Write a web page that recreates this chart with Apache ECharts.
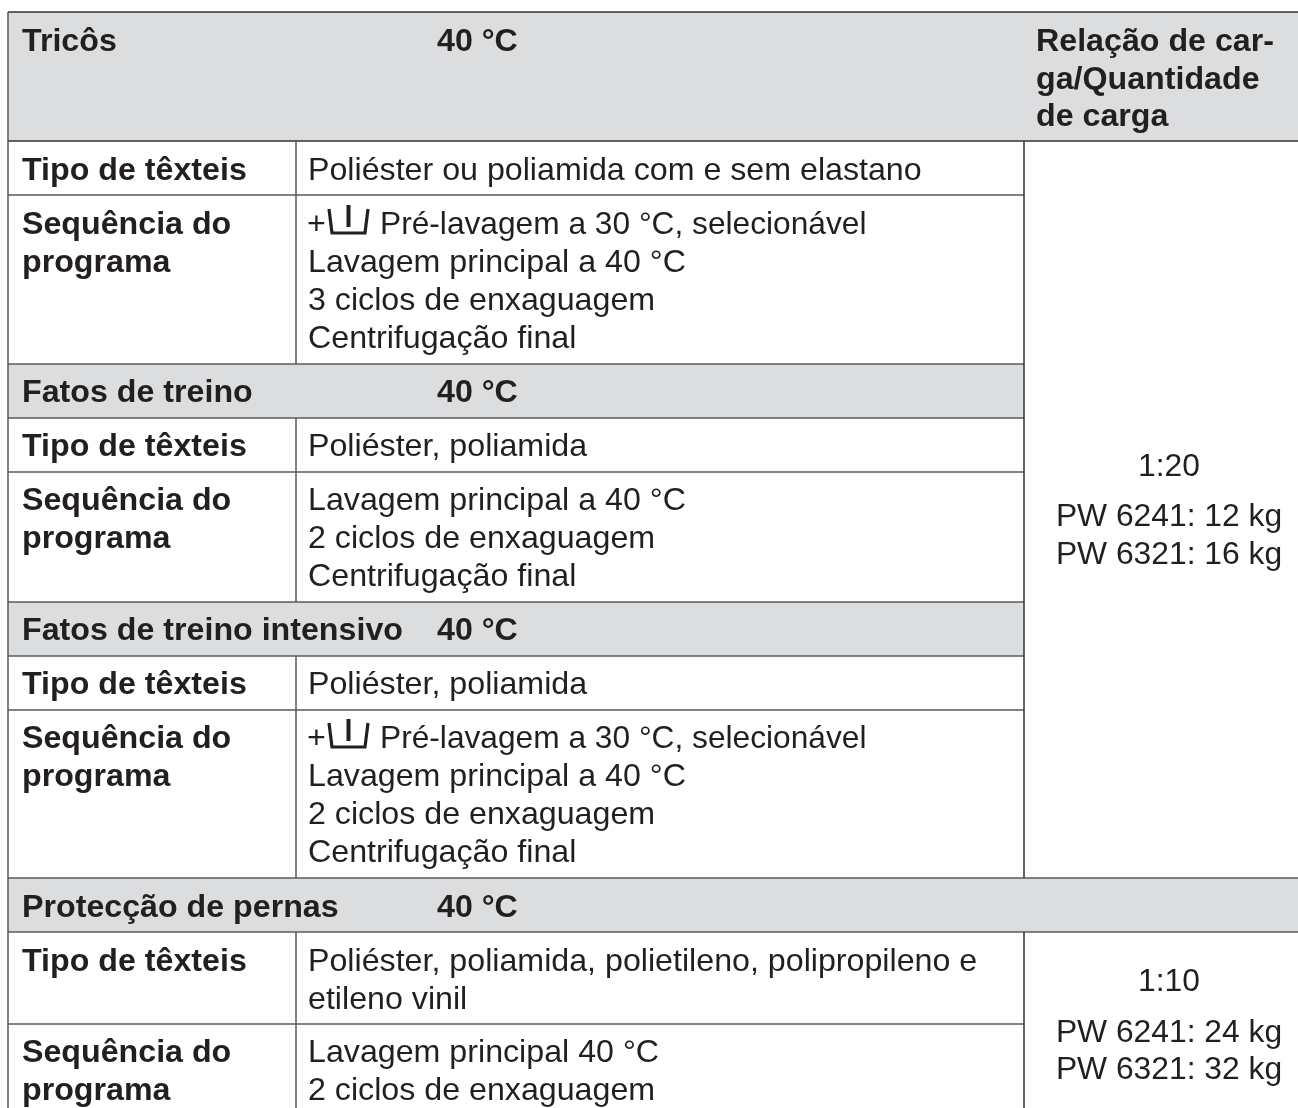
<!DOCTYPE html>
<html><head><meta charset="utf-8">
<style>html,body{margin:0;padding:0;background:#fff}#c{width:1298px;height:1108px}</style>
<script src="https://cdn.jsdelivr.net/npm/echarts@6/dist/echarts.min.js"></script></head>
<body><div id="c"></div>
<script>
// ---- content ----
const headerTitles = ['Tricôs', 'Fatos de treino', 'Fatos de treino intensivo', 'Protecção de pernas'];
const temperature = '40 °C';
const rowLabels = ['Tipo de têxteis', 'Sequência do', 'programa'];
const loadHeader = ['Relação de car-', 'ga/Quantidade', 'de carga'];
const bodyLines = [
  'Poliéster ou poliamida com e sem elastano',
  'Pré-lavagem a 30 °C, selecionável', 'Lavagem principal a 40 °C', '3 ciclos de enxaguagem', 'Centrifugação final',
  'Poliéster, poliamida',
  'Lavagem principal a 40 °C', '2 ciclos de enxaguagem', 'Centrifugação final',
  'Poliéster, poliamida',
  'Pré-lavagem a 30 °C, selecionável', 'Lavagem principal a 40 °C', '2 ciclos de enxaguagem', 'Centrifugação final',
  'Poliéster, poliamida, polietileno, polipropileno e', 'etileno vinil',
  'Lavagem principal 40 °C', '2 ciclos de enxaguagem'
];
const loadLines = ['1:20', 'PW 6241: 12 kg', 'PW 6321: 16 kg', '1:10', 'PW 6241: 24 kg', 'PW 6321: 32 kg'];

// ---- layout of the table (page pixels) ----
const L = 8, C1 = 296, C2 = 1024, R = 1298, B = 1108;
const bodyRowY = [171, 225, 263, 301, 339, 447, 501, 539, 577, 685, 739, 777, 815, 853, 962, 1000, 1053, 1091];
const preWashRows = [1, 10];
const sectionY = [42, 393, 631, 908];
const labelRows = [[0,171],[1,225],[2,263],[0,447],[1,501],[2,539],[0,685],[1,739],[2,777],[0,962],[1,1053],[2,1091]];
const loadPos = [467, 517, 555, 982, 1033, 1070];
const bands = [[L,12,R,141],[L,364,C2,418],[L,602,C2,656],[L,878,R,932]];
const hLines = [[L,R,12],[L,R,141],[L,C2,195],[L,C2,364],[L,C2,418],[L,C2,472],[L,C2,602],[L,C2,656],[L,C2,710],[L,R,878],[L,R,932],[L,C2,1024]];
const vLines = [[L,12,B],[C2,141,878],[C2,932,B],[C1,141,364],[C1,418,602],[C1,656,878],[C1,932,B]];

const FS = 32.2, FF = '"Liberation Sans", Arial, sans-serif', INK = '#231f20', LINE = '#58585a', DARK = '#323234', FILL = '#dcddde';

const texts = [];
const add = (t, x, y, o) => texts.push(Object.assign({t, x, y, w: 400, a: 'left', s: FS}, o));
headerTitles.forEach((t, i) => { add(t, 22, sectionY[i], {w: 700}); add(temperature, 437, sectionY[i], {w: 700}); });
loadHeader.forEach((t, i) => add(t, 1036, [42, 80, 117][i], {w: 700}));
labelRows.forEach(([i, y]) => add(rowLabels[i], 22, y, {w: 700}));
bodyLines.forEach((t, i) => preWashRows.includes(i) ? add(t, 380, bodyRowY[i], {s: 31.7}) : add(t, 308, bodyRowY[i]));
preWashRows.forEach(i => add('+', 307, bodyRowY[i]));
loadLines.forEach((t, i) => add(t, 1169, loadPos[i], {a: 'center', s: 31.8}));

const chart = echarts.init(document.getElementById('c'), null, {renderer: 'canvas'});
chart.setOption({
  animation: false,
  grid: {left: 0, right: 0, top: 0, bottom: 0},
  xAxis: {type: 'value', min: 0, max: 1298, show: false},
  yAxis: {type: 'value', min: 0, max: 1108, inverse: true, show: false},
  series: [
    {type: 'custom', silent: true, z: 1, data: bands.map((_, i) => i), renderItem: (p, api) => {
      const b = bands[api.value(0)], a = api.coord([b[0], b[1]]), c = api.coord([b[2], b[3]]);
      return {type: 'rect', shape: {x: a[0], y: a[1], width: c[0]-a[0], height: c[1]-a[1]}, style: {fill: FILL}};
    }},
    {type: 'custom', silent: true, z: 2, data: hLines.map((_, i) => i), renderItem: (p, api) => {
      const h = hLines[api.value(0)], a = api.coord([h[0], h[2]]), c = api.coord([h[1], h[2]]);
      return {type: 'line', shape: {x1: a[0], y1: a[1], x2: c[0], y2: c[1]}, style: {stroke: h[2] === 12 || h[2] === 141 ? DARK : LINE, lineWidth: 1.5}};
    }},
    {type: 'custom', silent: true, z: 3, data: vLines.map((_, i) => i), renderItem: (p, api) => {
      const v = vLines[api.value(0)], a = api.coord([v[0], v[1]]), c = api.coord([v[0], v[2]]);
      return {type: 'line', shape: {x1: a[0], y1: a[1], x2: c[0], y2: c[1]}, style: {stroke: v[0] === C2 ? DARK : LINE, lineWidth: 1.5}};
    }},
    {type: 'custom', silent: true, z: 3, data: preWashRows.map((_, i) => i), renderItem: (p, api) => {
      const y = bodyRowY[preWashRows[api.value(0)]];
      const pt = (dx, dy) => api.coord([329 + dx, y + dy]);
      return {type: 'group', children: [
        {type: 'polyline', shape: {points: [pt(0,-16), pt(3,8), pt(36,8), pt(39,-16)]}, style: {stroke: INK, lineWidth: 3.2, fill: null}},
        {type: 'line', shape: {x1: pt(19.5,-20)[0], y1: pt(19.5,-20)[1], x2: pt(19.5,2)[0], y2: pt(19.5,2)[1]}, style: {stroke: INK, lineWidth: 4}}
      ]};
    }},
    {type: 'custom', silent: true, z: 4, data: texts.map((_, i) => i), renderItem: (p, api) => {
      const d = texts[api.value(0)], c = api.coord([d.x, d.y]);
      return {type: 'text', x: c[0], y: c[1], style: {text: d.t, font: `${d.w} ${d.s}px ${FF}`, fill: INK, align: d.a, verticalAlign: 'middle'}};
    }}
  ]
});
</script></body></html>
